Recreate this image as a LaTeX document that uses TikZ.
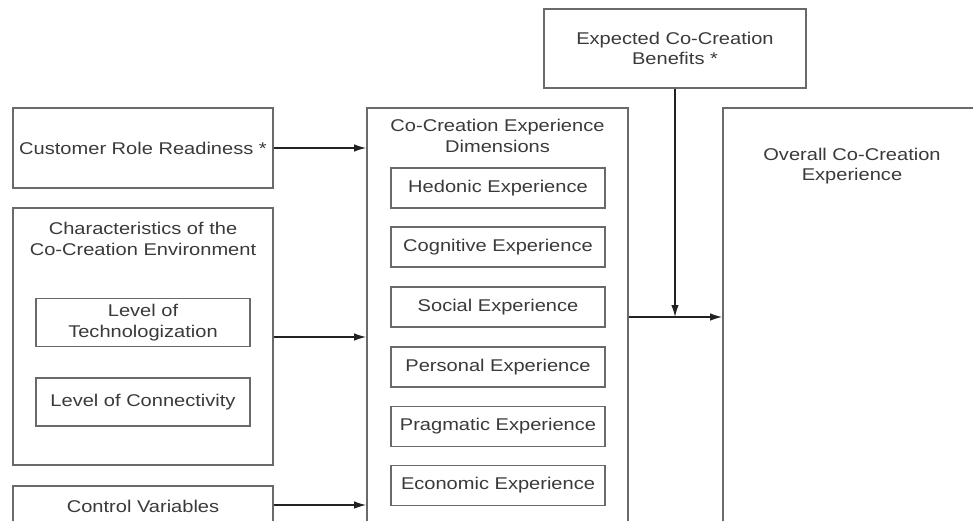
\documentclass[tikz,border=0pt]{standalone}
\usepackage{fontspec}
\setmainfont{Liberation Sans}[FakeStretch=1.18]
\usetikzlibrary{arrows.meta}
\definecolor{frame}{HTML}{6A6A6A}
\definecolor{ink}{HTML}{3A3A3A}
\definecolor{wire}{HTML}{222222}
\begin{document}
\begin{tikzpicture}[x=1pt,y=-1pt,
  box/.style={draw=frame, line width=1.7pt, fill=none, inner sep=0pt, align=center, text=ink},
  label/.style={inner sep=0pt, align=center, text=ink},
  arrow/.style={draw=wire, line width=1.2pt, -{Latex[length=12pt,width=7.5pt]}},
  font=\fontsize{17}{20.5}\selectfont]
\useasboundingbox (0,0) rectangle (973,521);
\clip (0,0) rectangle (973,521);
\fill[white] (0,0) rectangle (973,521);

% left column
\node[box, minimum width=260, minimum height=80] (crr) at (143,148) {Customer Role Readiness *};
\node[box, minimum width=260, minimum height=257] (env) at (143,336.5) {};
\node[label] (envt) at (143,239) {Characteristics of the\\Co-Creation Environment};
\node[box, minimum width=214, minimum height=48] (tech) at (143,322.5) {Level of\\Technologization};
\node[box, minimum width=214, minimum height=48] (conn) at (143,402) {Level of Connectivity};
\node[box, minimum width=260, minimum height=40] (ctrl) at (143,506) {Control Variables};

% experience dimensions
\node[box, minimum width=261, minimum height=422] (mid) at (497.5,319) {};
\node[label] (midt) at (497.5,136) {Co-Creation Experience\\Dimensions};
\node[box, minimum width=214, minimum height=40] (hed) at (498,188) {Hedonic Experience};
\node[box, minimum width=214, minimum height=40] (cog) at (498,247) {Cognitive Experience};
\node[box, minimum width=214, minimum height=40] (soc) at (498,307) {Social Experience};
\node[box, minimum width=214, minimum height=40] (per) at (498,367) {Personal Experience};
\node[box, minimum width=214, minimum height=40] (pra) at (498,426.5) {Pragmatic Experience};
\node[box, minimum width=214, minimum height=40] (eco) at (498,485.5) {Economic Experience};

% benefits and outcome
\node[box, minimum width=262, minimum height=79] (ecb) at (675,48.5) {Expected Co-Creation\\Benefits *};
\node[box, minimum width=262, minimum height=422] (ovr) at (854,319) {};
\node[label] (ovrt) at (852,166) {Overall Co-Creation\\Experience};

% connectors
\draw[arrow] (crr.east) -- (crr.east -| mid.west);
\draw[arrow] (env.east |- 0,337) -- (mid.west |- 0,337);
\draw[arrow] (ctrl.east |- 0,505) -- (mid.west |- 0,505);
\coordinate (j) at (675,317);
\draw[arrow] (mid.east |- j) -- (ovr.west |- j);
\draw[arrow] (ecb.south) -- (j);
\end{tikzpicture}
\end{document}
